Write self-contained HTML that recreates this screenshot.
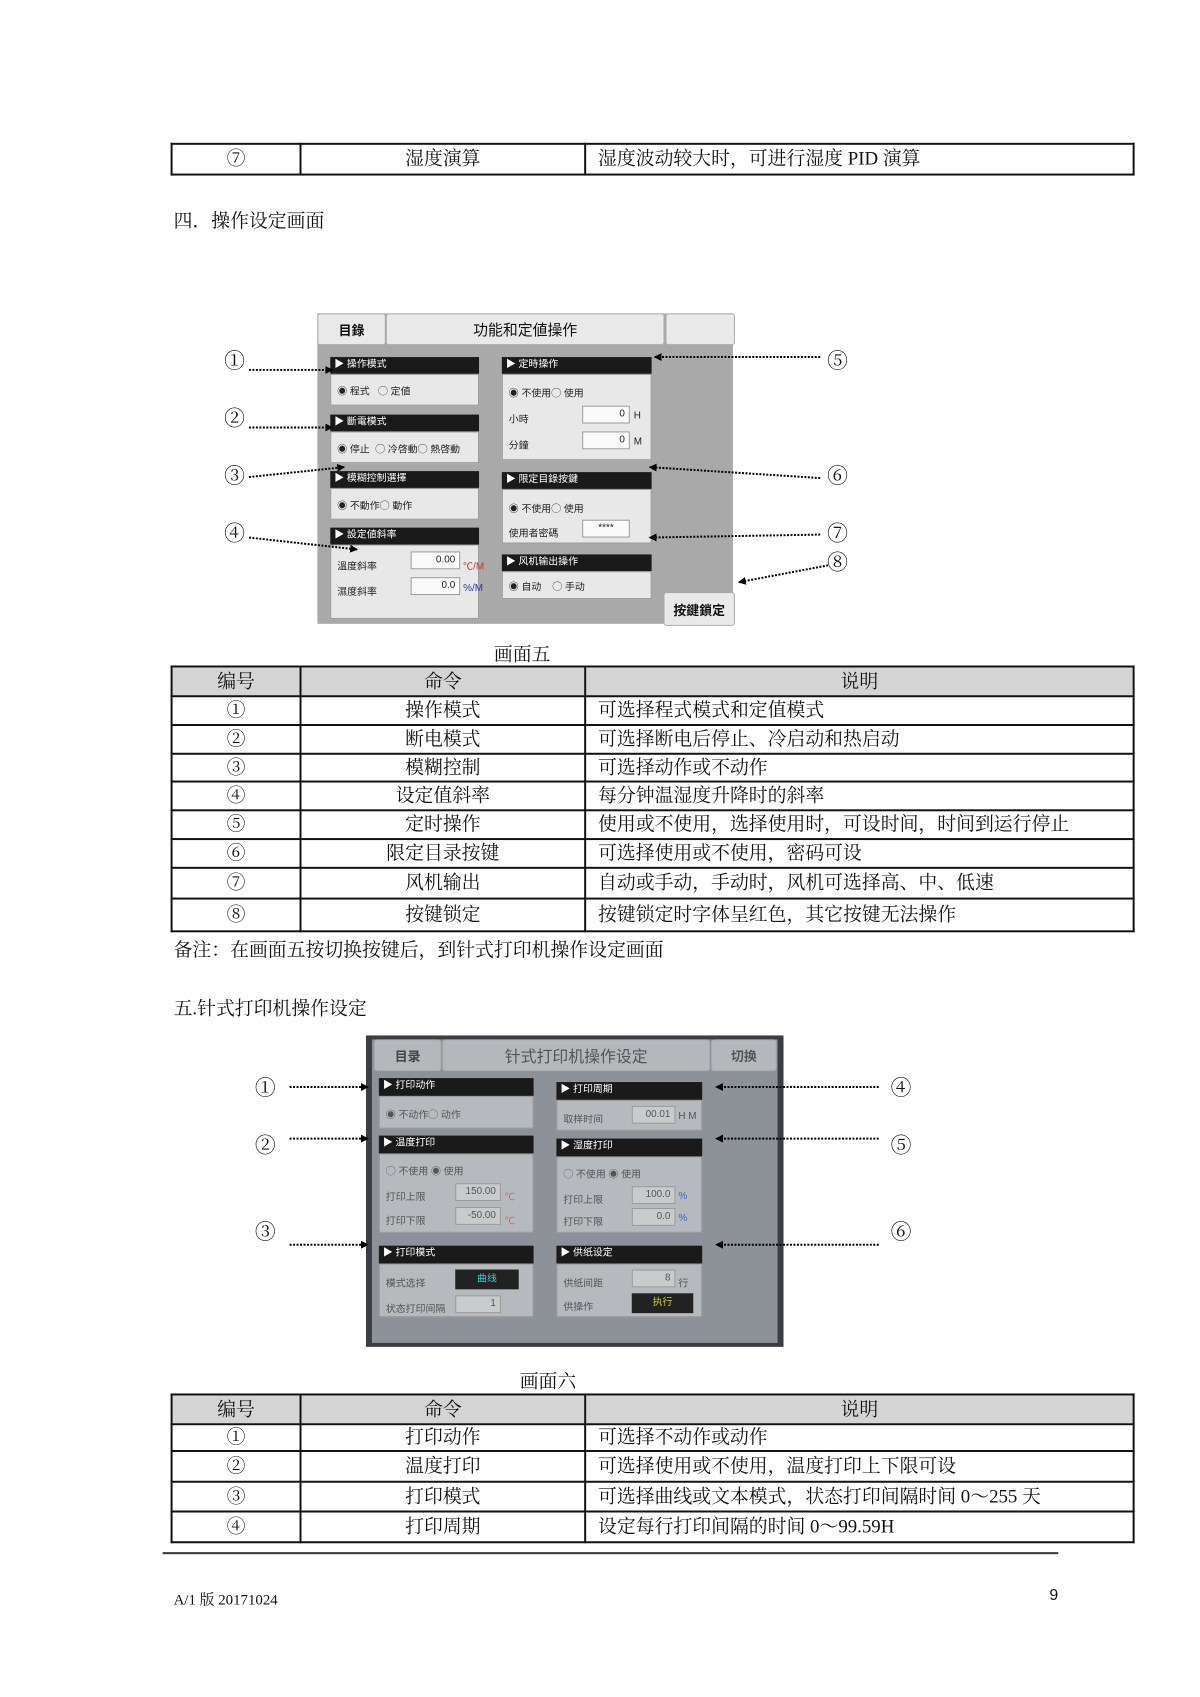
<!DOCTYPE html>
<html><head><meta charset="utf-8">
<style>
body{margin:0;background:#fff;}
#wrap{position:relative;width:1200px;height:1697px;overflow:hidden;}
#pg{position:absolute;left:0;top:0;width:1210px;height:1711px;transform:scale(0.9918);transform-origin:0 0;font-family:"Liberation Serif","Noto Serif CJK SC",serif;color:#111;}
.a{position:absolute;}
table{position:absolute;left:172px;border-collapse:collapse;table-layout:fixed;width:970px;font-size:19px;}
td{border:2px solid #111;padding:0;line-height:1;white-space:nowrap;overflow:hidden;}
td.c{text-align:center;}
td.l{padding-left:12px;}
tr.h td{background:#d4d4d4;}
.t{font-size:19px;white-space:nowrap;}
.scr{position:absolute;font-family:"Liberation Sans","Noto Sans CJK SC",sans-serif;}
.btn{position:absolute;background:#e9e9e9;border:1px solid #aaa;border-radius:3px;font-size:13px;font-weight:bold;display:flex;align-items:center;justify-content:center;}
.pt{position:absolute;background:#1a1a1a;color:#fff;font-size:10px;line-height:16px;padding-left:4px;box-sizing:border-box;}
.pb{position:absolute;background:#e8e8e8;border:1px solid #999;box-sizing:border-box;font-size:10px;color:#222;}
.in{position:absolute;background:#fafafa;border:1px solid #999;font-size:10px;text-align:right;padding-right:4px;box-sizing:border-box;line-height:16px;}
.cn{position:absolute;font-size:21px;line-height:1;}
</style></head><body><div id="wrap"><div id="pg">

<table style="top:144px"><colgroup><col style="width:130px"><col style="width:287px"><col style="width:553px"></colgroup>
<tr style="height:31px"><td class="c">⑦</td><td class="c">湿度演算</td><td class="l">湿度波动较大时，可进行湿度 PID 演算</td></tr></table>

<div class="a t" style="left:175px;top:208px">四．操作设定画面</div>

<!-- Screen 5 -->
<div class="scr" style="left:320px;top:316px;width:419px;height:313px;background:#a9a9a9;">
 <div class="btn" style="left:0;top:0;width:67px;height:30px;">目錄</div>
 <div class="btn" style="left:69px;top:0;width:279px;height:30px;font-size:15px;font-weight:normal;">功能和定値操作</div>
 <div class="btn" style="left:351px;top:0;width:68px;height:30px;"></div>
 <div class="pt" style="left:13px;top:44px;width:150px;height:17px;">▶ 操作模式</div>
 <div class="pb" style="left:13px;top:61px;width:150px;height:32px;padding:8px 6px;">◉ 程式 &nbsp; ◯ 定値</div>
 <div class="pt" style="left:13px;top:102px;width:150px;height:17px;">▶ 斷電模式</div>
 <div class="pb" style="left:13px;top:119px;width:150px;height:32px;padding:8px 6px;">◉ 停止 &nbsp;◯ 冷啓動◯ 熱啓動</div>
 <div class="pt" style="left:13px;top:159px;width:150px;height:17px;">▶ 模糊控制選擇</div>
 <div class="pb" style="left:13px;top:176px;width:150px;height:32px;padding:8px 6px;">◉ 不動作◯ 動作</div>
 <div class="pt" style="left:13px;top:216px;width:150px;height:17px;">▶ 設定値斜率</div>
 <div class="pb" style="left:13px;top:233px;width:150px;height:75px;">
  <span class="a" style="left:6px;top:12px">溫度斜率</span><div class="in" style="left:80px;top:6px;width:50px;">0.00</div><span class="a" style="left:133px;top:12px;color:#c33">℃/M</span>
  <span class="a" style="left:6px;top:38px">濕度斜率</span><div class="in" style="left:80px;top:32px;width:50px;">0.0</div><span class="a" style="left:133px;top:38px;color:#33a">%/M</span>
 </div>
 <div class="pt" style="left:186px;top:44px;width:151px;height:17px;">▶ 定時操作</div>
 <div class="pb" style="left:186px;top:61px;width:151px;height:87px;">
  <span class="a" style="left:6px;top:10px">◉ 不使用◯ 使用</span>
  <span class="a" style="left:6px;top:36px">小時</span><div class="in" style="left:80px;top:31px;width:48px;">0</div><span class="a" style="left:132px;top:36px">H</span>
  <span class="a" style="left:6px;top:62px">分鐘</span><div class="in" style="left:80px;top:57px;width:48px;">0</div><span class="a" style="left:132px;top:62px">M</span>
 </div>
 <div class="pt" style="left:186px;top:160px;width:151px;height:17px;">▶ 限定目錄按鍵</div>
 <div class="pb" style="left:186px;top:177px;width:151px;height:55px;">
  <span class="a" style="left:6px;top:10px">◉ 不使用◯ 使用</span>
  <span class="a" style="left:6px;top:35px">使用者密碼</span><div class="in" style="left:80px;top:30px;width:48px;text-align:center;padding:0">****</div>
 </div>
 <div class="pt" style="left:186px;top:243px;width:151px;height:17px;">▶ 风机输出操作</div>
 <div class="pb" style="left:186px;top:260px;width:151px;height:28px;padding:6px 6px;">◉ 自动 &nbsp;&nbsp; ◯ 手动</div>
 <div class="btn" style="left:349px;top:281px;width:70px;height:32px;">按鍵鎖定</div>
</div>

<div class="a" style="left:498px;top:645px;font-size:19px;">画面五</div>

<table style="top:671px"><colgroup><col style="width:130px"><col style="width:287px"><col style="width:553px"></colgroup>
<tr class="h" style="height:30px"><td class="c">编号</td><td class="c">命令</td><td class="c">说明</td></tr>
<tr style="height:29px"><td class="c">①</td><td class="c">操作模式</td><td class="l">可选择程式模式和定值模式</td></tr>
<tr style="height:29px"><td class="c">②</td><td class="c">断电模式</td><td class="l">可选择断电后停止、冷启动和热启动</td></tr>
<tr style="height:28px"><td class="c">③</td><td class="c">模糊控制</td><td class="l">可选择动作或不动作</td></tr>
<tr style="height:29px"><td class="c">④</td><td class="c">设定值斜率</td><td class="l">每分钟温湿度升降时的斜率</td></tr>
<tr style="height:29px"><td class="c">⑤</td><td class="c">定时操作</td><td class="l">使用或不使用，选择使用时，可设时间，时间到运行停止</td></tr>
<tr style="height:29px"><td class="c">⑥</td><td class="c">限定目录按键</td><td class="l">可选择使用或不使用，密码可设</td></tr>
<tr style="height:31px"><td class="c">⑦</td><td class="c">风机输出</td><td class="l">自动或手动，手动时，风机可选择高、中、低速</td></tr>
<tr style="height:33px"><td class="c">⑧</td><td class="c">按键锁定</td><td class="l">按键锁定时字体呈红色，其它按键无法操作</td></tr>
</table>
<div class="a t" style="left:175px;top:943px">备注：在画面五按切换按键后，到针式打印机操作设定画面</div>

<div class="a t" style="left:175px;top:1002px">五.针式打印机操作设定</div>

<!-- Screen 6 -->
<div class="scr" style="left:369px;top:1044px;width:421px;height:314px;background:#3a3d42;">
 <div class="a" style="left:6px;top:4px;width:409px;height:306px;background:#8c9298;"></div>
 <div class="btn" style="left:8px;top:4px;width:66px;height:30px;background:#b4b8bc;color:#444;">目录</div>
 <div class="btn" style="left:77px;top:4px;width:268px;height:30px;background:#b4b8bc;color:#555;font-weight:normal;font-size:16px;">针式打印机操作设定</div>
 <div class="btn" style="left:348px;top:4px;width:64px;height:30px;background:#b4b8bc;color:#555;">切换</div>
 <div class="pt" style="left:13px;top:43px;width:156px;height:18px;">▶ 打印动作</div>
 <div class="pb" style="left:13px;top:61px;width:156px;height:33px;background:#b6b9bd;color:#555;padding:9px 6px;">◉ 不动作◯ 动作</div>
 <div class="pt" style="left:13px;top:101px;width:156px;height:18px;">▶ 温度打印</div>
 <div class="pb" style="left:13px;top:119px;width:156px;height:80px;background:#b6b9bd;color:#555;">
  <span class="a" style="left:6px;top:8px">◯ 不使用 ◉ 使用</span>
  <span class="a" style="left:6px;top:34px">打印上限</span><div class="in" style="left:76px;top:29px;width:46px;background:#c8cacc;">150.00</div><span class="a" style="left:126px;top:34px;color:#c66">℃</span>
  <span class="a" style="left:6px;top:58px">打印下限</span><div class="in" style="left:76px;top:53px;width:46px;background:#c8cacc;">-50.00</div><span class="a" style="left:126px;top:58px;color:#c66">℃</span>
 </div>
 <div class="pt" style="left:13px;top:212px;width:156px;height:18px;">▶ 打印模式</div>
 <div class="pb" style="left:13px;top:230px;width:156px;height:54px;background:#b6b9bd;color:#555;">
  <span class="a" style="left:6px;top:10px">模式选择</span><div class="a" style="left:76px;top:5px;width:64px;height:20px;background:#222;color:#3cc;text-align:center;line-height:20px;">曲线</div>
  <span class="a" style="left:6px;top:36px">状态打印间隔</span><div class="in" style="left:76px;top:31px;width:46px;background:#c8cacc;">1</div>
 </div>
 <div class="pt" style="left:192px;top:47px;width:147px;height:18px;">▶ 打印周期</div>
 <div class="pb" style="left:192px;top:65px;width:147px;height:31px;background:#b6b9bd;color:#555;">
  <span class="a" style="left:6px;top:10px">取样时间</span><div class="in" style="left:75px;top:5px;width:44px;background:#c8cacc;">00.01</div><span class="a" style="left:122px;top:10px">H M</span>
 </div>
 <div class="pt" style="left:192px;top:104px;width:147px;height:18px;">▶ 湿度打印</div>
 <div class="pb" style="left:192px;top:122px;width:147px;height:77px;background:#b6b9bd;color:#555;">
  <span class="a" style="left:6px;top:8px">◯ 不使用 ◉ 使用</span>
  <span class="a" style="left:6px;top:34px">打印上限</span><div class="in" style="left:75px;top:29px;width:44px;background:#c8cacc;">100.0</div><span class="a" style="left:122px;top:34px;color:#36c">%</span>
  <span class="a" style="left:6px;top:56px">打印下限</span><div class="in" style="left:75px;top:51px;width:44px;background:#c8cacc;">0.0</div><span class="a" style="left:122px;top:56px;color:#36c">%</span>
 </div>
 <div class="pt" style="left:192px;top:212px;width:147px;height:18px;">▶ 供纸设定</div>
 <div class="pb" style="left:192px;top:230px;width:147px;height:54px;background:#b6b9bd;color:#555;">
  <span class="a" style="left:6px;top:10px">供纸间距</span><div class="in" style="left:75px;top:5px;width:44px;background:#c8cacc;">8</div><span class="a" style="left:122px;top:10px">行</span>
  <span class="a" style="left:6px;top:34px">供操作</span><div class="a" style="left:75px;top:29px;width:62px;height:20px;background:#222;color:#cc3;text-align:center;line-height:20px;">执行</div>
 </div>
</div>

<div class="a" style="left:524px;top:1378px;font-size:19px;">画面六</div>

<table style="top:1405px"><colgroup><col style="width:130px"><col style="width:287px"><col style="width:553px"></colgroup>
<tr class="h" style="height:30px"><td class="c">编号</td><td class="c">命令</td><td class="c">说明</td></tr>
<tr style="height:27px"><td class="c">①</td><td class="c">打印动作</td><td class="l">可选择不动作或动作</td></tr>
<tr style="height:31px"><td class="c">②</td><td class="c">温度打印</td><td class="l">可选择使用或不使用，温度打印上下限可设</td></tr>
<tr style="height:30px"><td class="c">③</td><td class="c">打印模式</td><td class="l">可选择曲线或文本模式，状态打印间隔时间 0～255 天</td></tr>
<tr style="height:31px"><td class="c">④</td><td class="c">打印周期</td><td class="l">设定每行打印间隔的时间 0～99.59H</td></tr>
</table>

<div class="a" style="left:164px;top:1565px;width:903px;height:2px;background:#333;"></div>
<div class="a" style="left:175px;top:1602px;font-size:15px;">A/1 版 20171024</div>
<div class="a" style="left:1058px;top:1600px;font-size:16px;font-family:'Liberation Sans',sans-serif;">9</div>

<div class="cn" style="left:226px;top:354px">①</div>
<div class="cn" style="left:226px;top:412px">②</div>
<div class="cn" style="left:226px;top:470px">③</div>
<div class="cn" style="left:226px;top:528px">④</div>
<div class="cn" style="left:834px;top:354px">⑤</div>
<div class="cn" style="left:834px;top:470px">⑥</div>
<div class="cn" style="left:834px;top:528px">⑦</div>
<div class="cn" style="left:834px;top:557px">⑧</div>
<div class="cn" style="left:257px;top:1087px">①</div>
<div class="cn" style="left:257px;top:1145px">②</div>
<div class="cn" style="left:257px;top:1232px">③</div>
<div class="cn" style="left:898px;top:1087px">④</div>
<div class="cn" style="left:898px;top:1145px">⑤</div>
<div class="cn" style="left:898px;top:1232px">⑥</div>

<svg class="a" style="left:0;top:0" width="1210" height="1711">
<defs><marker id="m" markerWidth="8" markerHeight="8" refX="7" refY="4" orient="auto" markerUnits="userSpaceOnUse"><path d="M0,0 L8,4 L0,8 Z" fill="#000"/></marker></defs>
<g stroke="#000" stroke-width="2" stroke-dasharray="2,1.5" fill="none" marker-end="url(#m)">
<line x1="251" y1="373" x2="335" y2="373"/>
<line x1="251" y1="431" x2="335" y2="431"/>
<line x1="251" y1="481" x2="347" y2="471"/>
<line x1="251" y1="542" x2="360" y2="554"/>
<line x1="827" y1="360" x2="660" y2="360"/>
<line x1="827" y1="482" x2="655" y2="471"/>
<line x1="827" y1="539" x2="655" y2="542"/>
<line x1="835" y1="570" x2="745" y2="587"/>
<line x1="292" y1="1096" x2="371" y2="1096"/>
<line x1="292" y1="1148" x2="371" y2="1148"/>
<line x1="292" y1="1255" x2="371" y2="1255"/>
<line x1="886" y1="1096" x2="722" y2="1096"/>
<line x1="886" y1="1148" x2="722" y2="1148"/>
<line x1="886" y1="1255" x2="722" y2="1255"/>
</g></svg>
</div></div></body></html>
